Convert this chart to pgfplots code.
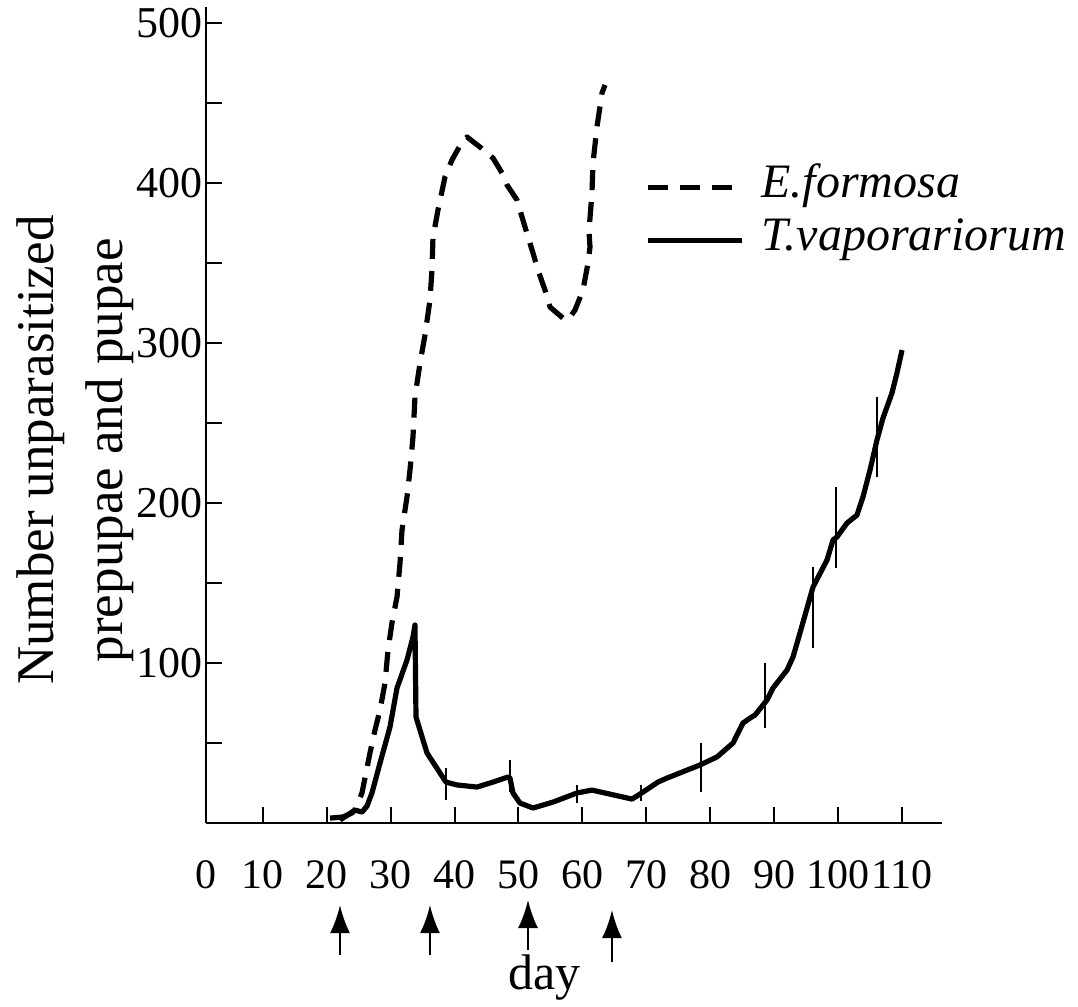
\documentclass[border=0pt]{standalone}
\usepackage{fontspec}
\setmainfont{Liberation Serif}
\usepackage{pgfplots}
\pgfplotsset{compat=1.18}
\usetikzlibrary{arrows.meta}
\begin{document}
\begin{tikzpicture}
\begin{axis}[
  x=3.195pt, y=0.8pt,
  xmin=1.1, xmax=116.3, ymin=0, ymax=510,
  axis x line=bottom, axis y line=left,
  axis line style={-, line width=1.4pt},
  tick align=inside,
  major tick length=8pt, minor tick length=8pt,
  tick style={black, line width=1pt},
  xtick={10,20,...,110},
  extra x ticks={1.1}, extra x tick labels={0},
  extra x tick style={major tick length=0pt},
  ytick={100,200,...,500},
  minor ytick={50,150,...,450},
  /pgf/number format/assume math mode=true,
  yticklabel style={font=\fontsize{22}{26}\selectfont, xshift=2pt},
  xticklabel style={font=\fontsize{21}{25}\selectfont, yshift=-15pt},
  clip=false,
  xlabel={day},
  xlabel style={at={(axis cs:54.1,-104)}, anchor=base, font=\fontsize{25}{30}\selectfont},
  ylabel={Number unparasitized\\prepupae and pupae},
  ylabel style={at={(axis cs:-19.4,233)}, anchor=center, align=center, font=\fontsize{26.5}{34.5}\selectfont},
  legend style={at={(axis cs:69.8,414)}, anchor=north west, draw=none, fill=none,
    inner sep=0pt, row sep=0pt, column sep=8.5pt,
    font=\fontsize{24}{28}\selectfont\itshape,
    nodes={inner sep=0pt, text height=18pt, text depth=8.5pt}},
  legend cell align=left,
  legend image code/.code={\draw[#1] (0pt,0pt) -- (47pt,0pt);},
]
\addplot[black, line width=2.6pt, dash pattern=on 10pt off 6pt, line join=round] coordinates {
(22.07,1.9) (24.41,8.1) (25.51,18.8) (26.76,43.8) (27.54,58.1) (28.33,70.6)
(29.11,87.5) (29.58,108.1) (30.20,125) (30.99,141.3) (31.46,162.5) (31.77,183.1)
(32.55,203.8) (33.02,220.6) (33.49,241.3) (33.80,266.3) (34.59,287.5) (35.37,305)
(36.15,326.9) (36.46,345.6) (36.62,366.3) (37.40,383.1) (38.50,403.8) (39.59,414.4)
(41.16,425.6) (41.94,428.8) (43.97,422.5) (46.01,415.6) (47.42,406.3) (48.20,398.8)
(49.77,389.4) (50.55,378.8) (51.49,366.3) (52.27,356.3) (53.05,345.6) (54.15,333.1)
(54.93,322.5) (56.96,315.6) (57.75,314.4) (58.84,320.6) (60.09,333.1) (60.88,350)
(61.19,360) (61.03,370) (61.50,393.8) (61.66,412.5) (62.28,435) (63.07,456.3) (63.54,461.3)
};
\addlegendentry{E.formosa}
\addplot[black, line width=2.6pt, line join=round] coordinates {
(20.50,3.1) (22.54,3.8) (23.94,6.3) (24.41,8.1) (25.51,6.9) (26.29,10.6) (27.07,18.8)
(28.33,37.5) (29.89,60) (30.99,84.4) (32.55,101.9) (33.49,116.3) (33.80,123.8)
(33.96,66.3) (35.68,43.8) (38.65,25.6) (40.38,23.8) (43.51,22.5) (46.01,25.6)
(48.36,28.8) (48.67,28.1) (49.14,18.8) (50.23,12.5) (52.27,9.4) (55.40,13.1)
(59.15,18.8) (61.50,20.6) (67.76,15) (69.01,18.1) (71.83,25.6) (73.24,28.1)
(78.40,36.3) (81.06,41.3) (83.57,50) (85.13,62.5) (86.23,65.6) (87.01,67.5)
(88.89,76.9) (89.83,84.4) (92.02,95.6) (92.96,103.8) (94.05,118.8) (96.09,147.5)
(98.28,164.4) (99.22,176.9) (99.84,178.8) (101.41,187.5) (102.97,192.5) (103.91,203.8)
(105.01,220.6) (106.10,239.4) (107.04,253.1) (108.45,268.8) (109.23,281.3) (110.02,295.6)
};
\addlegendentry{T.vaporariorum}
\addplot[draw=none, mark=none, forget plot,
  error bars/.cd, y dir=both, y explicit, error mark=none,
  error bar style={draw=black, solid, line width=1pt}] coordinates {
(38.7,24.4) +- (0,10)
(48.7,29.4) +- (0,10)
(59.15,18.1) +- (0,5.6)
(69.2,18.8) +- (0,5)
(78.6,34.7) +- (0,15.3)
(88.6,79.7) +- (0,20.3)
(96.1,134.7) +- (0,25.3)
(99.7,184.7) +- (0,25.3)
(106.1,241.3) +- (0,25)
};
\draw[line width=1pt, -{Latex[length=14pt,width=10pt]}] (axis cs:22.07,-82.5) -- (axis cs:22.07,-51.3);
\draw[line width=1pt, -{Latex[length=14pt,width=10pt]}] (axis cs:36.15,-82.5) -- (axis cs:36.15,-51.3);
\draw[line width=1pt, -{Latex[length=14pt,width=10pt]}] (axis cs:51.49,-79.4) -- (axis cs:51.49,-48.1);
\draw[line width=1pt, -{Latex[length=14pt,width=10pt]}] (axis cs:64.63,-86.9) -- (axis cs:64.63,-54.4);
\path (axis cs:-31.14,-114.4) rectangle (axis cs:137.56,514.4);
\end{axis}
\end{tikzpicture}
\end{document}
